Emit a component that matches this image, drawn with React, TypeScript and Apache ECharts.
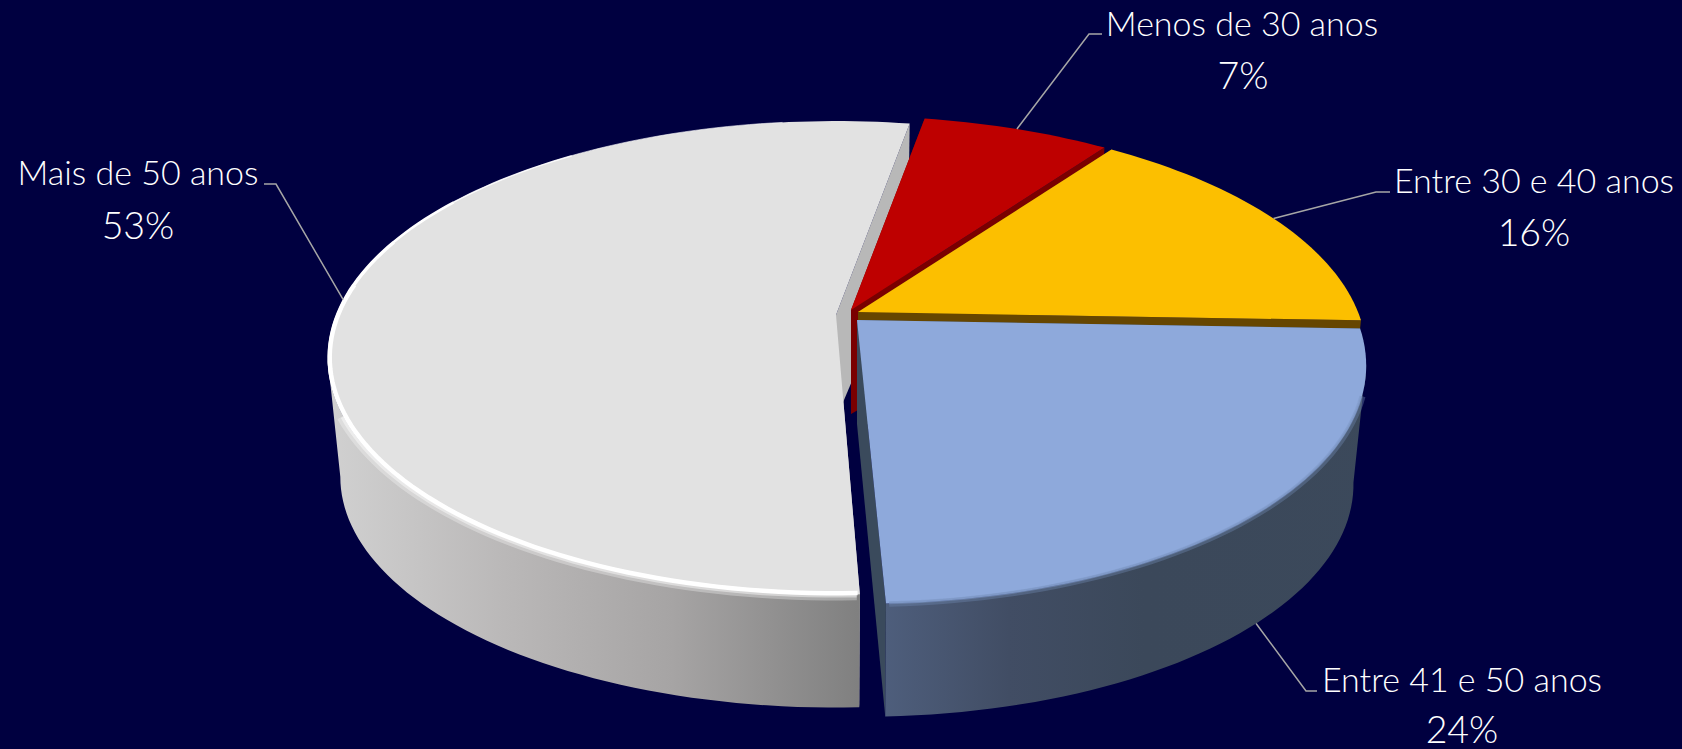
import React, { useEffect, useRef } from "react";
import * as echarts from "echarts";

const categories = ["Menos de 30 anos", "Entre 30 e 40 anos", "Entre 41 e 50 anos", "Mais de 50 anos"];
const shares = [7.1, 15.7, 23.8, 53.4];

const WIDTH = 1682;
const HEIGHT = 749;
const BG = "#000040";
const FONT = "Lato, Carlito, sans-serif";
const START_ANGLE = 10;
const PERSPECTIVE = 0.181;
const RX = 500;
const RY = 229;
const WALL_DROP = 120;
const APEX_DROP = 104;
const WALL_SCALE = 0.975;

type Style = {
  apex: [number, number];
  scaleY: number;
  shearX: number;
  top: string;
  radial: string;
  wall: [number, string][];
  order: number;
  name: [number, number];
  pct: [number, number];
  elbow: [number, number][];
  fromWall?: boolean;
};

const styles: Style[] = [
  { apex: [851, 310], scaleY: 1, shearX: 0, top: "#BE0000", radial: "#7A0000", wall: [[0, "#7A0000"], [1, "#7A0000"]], order: 1,
    name: [1242, 22], pct: [1243, 74], elbow: [[1089, 34], [1102, 34]] },
  { apex: [858, 312], scaleY: 1, shearX: 0, top: "#FCBF00", radial: "#664600", wall: [[0, "#664600"], [1, "#664600"]], order: 2,
    name: [1534, 179], pct: [1534, 231], elbow: [[1376, 192], [1390, 192]] },
  { apex: [857, 320], scaleY: 1.015, shearX: 0.018, top: "#8EA9DB", radial: "#3A4A5C", wall: [[0.526, "#4E5E7C"], [0.6, "#414D64"], [0.68, "#3B485A"], [1, "#3C4A5C"]], order: 3,
    name: [1462, 678], pct: [1462, 728], elbow: [[1306, 691], [1317, 691]], fromWall: true },
  { apex: [836, 315], scaleY: 1, shearX: 0, top: "#E2E2E2", radial: "#B8B8B8", wall: [[0.19, "#D2D2D2"], [0.3, "#BAB8B8"], [0.4, "#A6A4A4"], [0.51, "#808080"]], order: 0,
    name: [138, 171], pct: [138, 224], elbow: [[276, 184], [264, 184]] },
];

// Angles at which the rim's outline is tangent to the wall's silhouette.
const TANGENT = (Math.acos(PERSPECTIVE) * 180) / Math.PI;
const VISIBLE_FROM = 180 - TANGENT;
const VISIBLE_TO = 180 + TANGENT;

function project(style: Style, deg: number, radius = 1, bottom = false): [number, number] {
  const rad = (deg * Math.PI) / 180;
  const u = Math.sin(rad) * radius;
  const v = -Math.cos(rad) * radius;
  const p = 1 / (1 - PERSPECTIVE * v);
  const dy = RY * v * p * style.scaleY;
  const dx = RX * u * p + style.shearX * dy;
  if (bottom) {
    return [style.apex[0] + dx * WALL_SCALE, style.apex[1] + WALL_DROP + dy * WALL_SCALE];
  }
  return [style.apex[0] + dx, style.apex[1] + dy];
}

function arc(style: Style, a0: number, a1: number, radius = 1, bottom = false) {
  const n = Math.max(2, Math.ceil(Math.abs(a1 - a0) / 1.5));
  const out: [number, number][] = [];
  for (let i = 0; i <= n; i++) {
    out.push(project(style, a0 + ((a1 - a0) * i) / n, radius, bottom));
  }
  return out;
}

function renderSlice(params: any, api: any) {
  const i = params.dataIndex;
  const total = shares.reduce((a, b) => a + b, 0);
  const before = shares.slice(0, i).reduce((a, b) => a + b, 0);
  const a0 = START_ANGLE + (before / total) * 360;
  const a1 = a0 + (api.value(1) / total) * 360;
  const mid = (a0 + a1) / 2;
  const s = styles[i];
  const z = s.order * 10;
  const apexTop = s.apex;
  const apexBottom: [number, number] = [s.apex[0], s.apex[1] + APEX_DROP];
  const children: any[] = [];

  const radialWall = (deg: number) => ({
    type: "polygon",
    z2: z,
    shape: { points: [apexTop, project(s, deg), project(s, deg, 1, true), apexBottom] },
    style: { fill: s.radial },
  });
  children.push(radialWall(a0));
  children.push(radialWall(a1));

  const wallFrom = Math.max(a0, VISIBLE_FROM);
  const wallTo = Math.min(a1, VISIBLE_TO);
  if (wallTo > wallFrom) {
    const wallGrad = new echarts.graphic.LinearGradient(0, 0, WIDTH, 0, s.wall.map(([offset, color]) => ({ offset, color })), true);
    children.push({
      type: "polygon",
      z2: z + 1,
      shape: { points: [...arc(s, wallFrom, wallTo), ...arc(s, wallTo, wallFrom, 1, true)] },
      style: { fill: wallGrad },
    });
  }

  children.push({
    type: "polygon",
    z2: z + 2,
    shape: { points: [apexTop, ...arc(s, a0, a1)] },
    style: { fill: s.top },
  });

  if (i === 3) {
    const rim = (from: number, to: number, radius: number, width: number, opacity: number) => ({
      type: "polyline",
      z2: z + 3,
      shape: { points: arc(s, a0 + from, a0 + to, radius) },
      style: { fill: "none", stroke: "#FFFFFF", lineWidth: width, opacity, lineCap: "butt" },
    });
    children.push(rim(0.3, 68, 1.004, 9, 0.3));
    children.push(rim(0.3, 68, 1.0, 6, 0.45));
    children.push(rim(0.2, 100, 0.996, 4.5, 1));
    children.push(rim(100, 112, 0.997, 3.5, 1));
    children.push(rim(112, 125, 0.998, 2.5, 1));
    children.push(rim(125, 145, 0.999, 1.5, 0.9));
    children.push(rim(145, 175, 1, 1, 0.6));
  }
  if (i === 2) {
    children.push({
      type: "polyline",
      z2: z + 3,
      shape: { points: arc(s, a0 + 16, a1 - 0.3, 1.002) },
      style: { fill: "none", stroke: "#6F86AE", lineWidth: 5, opacity: 0.4 },
    });
    children.push({
      type: "polyline",
      z2: z + 3,
      shape: { points: arc(s, a0 + 16, a1 - 0.3, 0.998) },
      style: { fill: "none", stroke: "#7E98C6", lineWidth: 3, opacity: 0.5 },
    });
  }

  const anchor = project(s, mid, 1, !!s.fromWall);
  children.push({
    type: "polyline",
    z2: 100,
    shape: { points: [anchor, ...s.elbow] },
    style: { fill: "none", stroke: "#A6A6A6", lineWidth: 1.5 },
  });
  children.push({
    type: "text",
    z2: 101,
    style: {
      x: s.name[0], y: s.name[1], text: categories[i], fill: "#FFFFFF",
      font: `300 34px ${FONT}`, align: "center", verticalAlign: "middle",
    },
  });
  children.push({
    type: "text",
    z2: 101,
    style: {
      x: s.pct[0], y: s.pct[1], text: `${Math.round(api.value(1))}%`, fill: "#FFFFFF",
      font: `300 37.5px ${FONT}`, align: "center", verticalAlign: "middle",
    },
  });
  return { type: "group", children };
}

export default function App() {
  const ref = useRef<HTMLDivElement>(null);
  useEffect(() => {
    document.body.style.margin = "0";
    document.body.style.background = BG;
    const chart = echarts.init(ref.current!, undefined, { renderer: "svg" });
    chart.setOption({
      animation: false,
      backgroundColor: BG,
      series: [
        {
          type: "custom",
          coordinateSystem: "none",
          silent: true,
          renderItem: renderSlice,
          data: shares.map((v, i) => [i, v]),
        },
      ],
    });
    return () => chart.dispose();
  }, []);
  return <div ref={ref} style={{ width: WIDTH, height: HEIGHT }} />;
}
